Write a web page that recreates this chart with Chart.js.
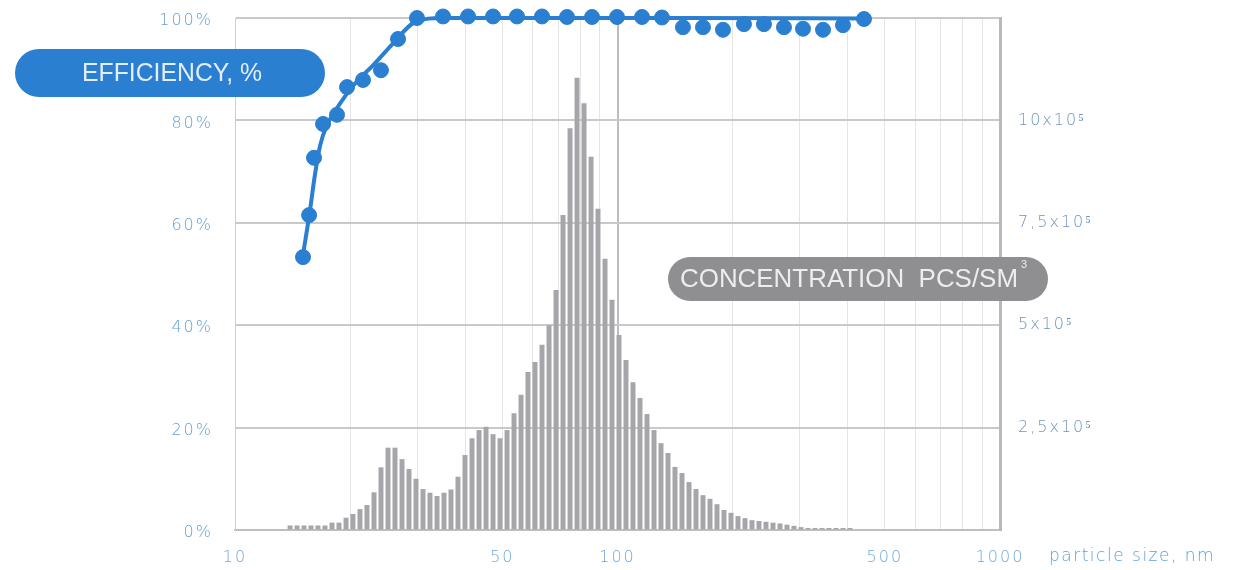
<!DOCTYPE html>
<html><head><meta charset="utf-8">
<script src="https://cdn.jsdelivr.net/npm/chart.js@4.4.1/dist/chart.umd.min.js"></script>
<style>html,body{margin:0;padding:0;background:#fff;} #wrap{width:1235px;height:570px;position:relative;}</style>
</head><body><div id="wrap"><canvas id="c"></canvas></div>
<script>
// particle size bins, nm
const sizes = [13.93,14.53,15.15,15.80,16.48,17.19,17.93,18.70,19.51,20.34,21.22,22.13,23.09,24.08,25.12,26.20,27.33,28.50,29.73,31.01,32.34,33.74,35.19,36.70,38.28,39.93,41.65,43.45,45.32,47.27,49.30,51.43,53.64,55.95,58.34,60.86,63.48,66.22,69.07,72.04,75.15,78.38,81.76,85.27,88.92,92.76,96.74,100.90,105.24,109.77,114.50,119.43,124.57,129.93,135.52,141.35,147.43,153.78,160.40,167.30,174.50,182.01,189.84,198.02,206.54,215.43,224.70,234.36,244.46,254.98,265.95,277.40,289.34,301.79,314.77,328.32,342.45,357.19,372.56,388.59,405.32];
// concentration, x10^5 pcs/sm3
const concentration = [0.11,0.11,0.11,0.11,0.11,0.11,0.18,0.18,0.30,0.39,0.51,0.61,0.92,1.53,2.01,2.01,1.73,1.49,1.25,1.00,0.91,0.83,0.91,0.99,1.30,1.83,2.24,2.44,2.52,2.34,2.24,2.44,2.85,3.30,3.86,4.10,4.52,5.00,5.86,7.69,9.81,11.04,10.42,9.11,7.84,6.62,5.62,4.76,4.15,3.61,3.22,2.83,2.44,2.12,1.88,1.54,1.39,1.17,1.00,0.85,0.76,0.63,0.49,0.42,0.34,0.29,0.24,0.22,0.20,0.18,0.16,0.13,0.10,0.07,0.05,0.05,0.05,0.05,0.05,0.05,0.05];
// measured efficiency points
const effSizes = [15.06,15.62,16.09,16.99,18.48,19.63,21.61,24.08,26.68,29.91,34.98,40.67,47.27,54.61,63.48,73.79,85.78,99.7,115.9,130.7,148.3,167.3,188.7,214.1,241.5,272.4,305.5,344.6,388.6,441.0];
const effValues = [53.3,61.5,72.7,79.3,81.1,86.5,87.9,89.8,95.9,100,100.3,100.3,100.3,100.3,100.3,100.2,100.2,100.2,100.2,100.1,98.2,98.2,97.7,98.8,98.8,98.2,97.9,97.7,98.6,99.8];
// fitted efficiency curve
const fitSizes = [15.03,15.64,16.19,16.68,17.37,18.26,19.39,20.81,22.99,25.94,29.25,34.98,60,150,441];
const fitValues = [53.4,61.5,69.5,75.0,79.0,81.8,84.7,87.6,90.8,95.1,99.0,100,100,100,99.9];
// axes
const xGridTicks = [10,20,30,40,50,60,70,80,90,100,200,300,400,500,600,700,800,900,1000];
const xLabelTicks = [10,50,100,500,1000];
const concTicks = [2.5,5,7.5,10];
const concLabels = ['2,5x10⁵','5x10⁵','7,5x10⁵','10x10⁵'];

const blue = '#2b7fd1';
const tickFont = {family:'"DejaVu Sans"', size:16, weight:'300'};

function pill(ctx,x,y,w,h,color){
  const r=h/2;
  ctx.beginPath();
  ctx.moveTo(x+r,y);
  ctx.lineTo(x+w-r,y);
  ctx.arc(x+w-r,y+r,r,-Math.PI/2,Math.PI/2);
  ctx.lineTo(x+r,y+h);
  ctx.arc(x+r,y+r,r,Math.PI/2,Math.PI*1.5);
  ctx.closePath();
  ctx.fillStyle=color; ctx.fill();
}
function fitText(ctx,txt,x,y,w){
  const m=ctx.measureText(txt).width;
  ctx.save(); ctx.translate(x,y); ctx.scale(w/m,1); ctx.fillText(txt,0,0); ctx.restore();
}

const overlay = {
  id:'overlay',
  beforeDraw(chart){ chart.ctx.letterSpacing='2px'; },
  beforeLayout(chart){ chart.ctx.letterSpacing='2px'; },
  afterDraw(chart){
    const ctx=chart.ctx; ctx.save();
    ctx.letterSpacing='0px';
    ctx.textBaseline='middle'; ctx.textAlign='left';
    pill(ctx,15,49,310,48,blue);
    ctx.fillStyle='#e4eefa'; ctx.font='25px "Liberation Sans"';
    fitText(ctx,'EFFICIENCY, %',82,74,180);
    pill(ctx,668,257,380,44,'#8f8f92');
    ctx.fillStyle='#ededed';
    fitText(ctx,'CONCENTRATION  PCS/SM',680,280,338);
    ctx.font='11px "Liberation Sans"'; ctx.fillText('3',1021,265);
    ctx.letterSpacing='1.5px';
    ctx.fillStyle='#5f9fd8'; ctx.font='300 17px "DejaVu Sans"';
    ctx.fillText('particle size, nm',1049,557);
    ctx.restore();
  }
};

new Chart(document.getElementById('c'),{
  type:'bar',
  data:{datasets:[
    {type:'scatter',data:effSizes.map((x,i)=>({x,y:effValues[i]})),yAxisID:'y',
     backgroundColor:blue,borderColor:blue,pointRadius:7.5,pointHoverRadius:7.5,showLine:false,order:1,clip:false},
    {type:'line',data:fitSizes.map((x,i)=>({x,y:fitValues[i]})),yAxisID:'y',
     borderColor:blue,borderWidth:4,pointRadius:0,cubicInterpolationMode:'monotone',fill:false,order:2,clip:false},
    {type:'bar',data:sizes.map((x,i)=>({x,y:concentration[i]})),yAxisID:'y2',
     backgroundColor:'#a6a6aa',categoryPercentage:1,barPercentage:0.72,order:3}
  ]},
  options:{
    responsive:true,maintainAspectRatio:false,animation:false,
    layout:{padding:{top:18,left:0,right:0,bottom:0}},
    plugins:{legend:{display:false},tooltip:{enabled:false}},
    scales:{
      x:{type:'logarithmic',min:10,max:1000,offset:false,
        grid:{offset:false,drawTicks:false,
          color:c=>c.tick&&c.tick.value===100?'#bdbdbd':'#e4e4e4',
          lineWidth:c=>c.tick&&c.tick.value===100?2:1},
        border:{display:true,color:'#bfbfbf',width:2},
        afterBuildTicks:s=>{s.ticks=xGridTicks.map(v=>({value:v}));},
        afterFit:s=>{s.height=40;s.paddingLeft=0;s.paddingRight=0;},
        ticks:{autoSkip:false,maxRotation:0,padding:18,color:'#6ea8dc',font:tickFont,
          callback:v=>xLabelTicks.includes(v)?String(v):''}
      },
      y:{type:'linear',position:'left',min:0,max:100,
        grid:{color:'#c9c9c9',lineWidth:2,drawTicks:false},
        border:{display:true,color:'#cfcfcf',width:1},
        afterFit:s=>{s.width=235;s.paddingTop=0;s.paddingBottom=0;},
        ticks:{stepSize:20,padding:22,labelOffset:3,color:'#62a0d6',font:tickFont,callback:v=>v+'%'}
      },
      y2:{type:'linear',position:'right',min:0,max:12.5,
        grid:{drawOnChartArea:false,drawTicks:false},
        border:{display:true,color:'#b9b9b9',width:3},
        afterFit:s=>{s.width=235;s.paddingTop=0;s.paddingBottom=0;},
        ticks:{stepSize:2.5,padding:18,color:'#6f93bd',font:{family:'"DejaVu Sans"',size:16,weight:'300'},
          callback:v=>{const i=concTicks.indexOf(v);return i>=0?concLabels[i]:'';}}
      }
    }
  },
  plugins:[overlay]
});
</script></body></html>
